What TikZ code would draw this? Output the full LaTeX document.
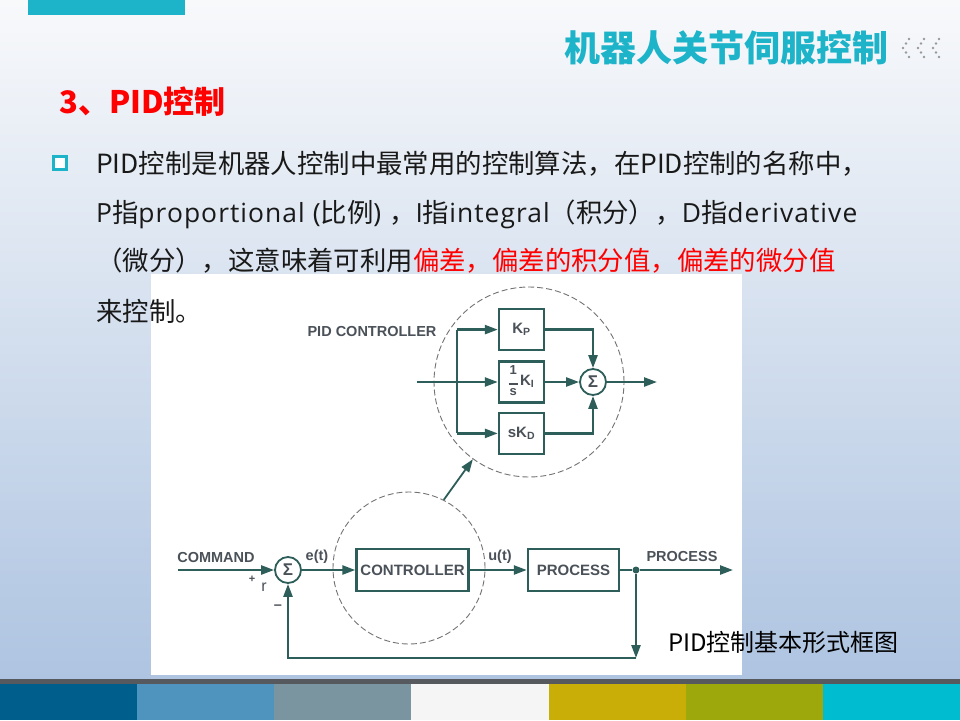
\documentclass[tikz,border=0pt]{standalone}
\usepackage{fontspec}
\setmainfont{Noto Sans CJK SC}
\newfontfamily\diafont{Liberation Sans}
\newfontfamily\latinfont[LetterSpace=4]{Open Sans}
\usetikzlibrary{arrows.meta,positioning}
\definecolor{brand}{HTML}{1DB3C9}
\definecolor{bgtop}{HTML}{F8F9FB}
\definecolor{bgbot}{HTML}{AEC4E1}
\definecolor{wire}{HTML}{2E5E5A}
\definecolor{labeltxt}{HTML}{4A5158}
\definecolor{rim}{HTML}{56595E}
\definecolor{sa}{HTML}{005E8C}
\definecolor{sb}{HTML}{4F93BF}
\definecolor{sc}{HTML}{7A959F}
\definecolor{sd}{HTML}{F5F5F5}
\definecolor{se}{HTML}{C9AE07}
\definecolor{sf}{HTML}{9CA80B}
\definecolor{sg}{HTML}{00BCD0}

\begin{document}
\begin{tikzpicture}[
  x=1pt,y=-1pt,
  body/.style={anchor=west,inner sep=0pt,font=\fontsize{26.4}{26.4}\selectfont,text=black!90},
  blk/.style={draw=wire,line width=2.4pt,fill=white,minimum width=45pt,minimum height=41pt,inner sep=0pt,
    font=\diafont\bfseries\fontsize{15}{15}\selectfont,text=labeltxt},
  sumc/.style={circle,draw=wire,line width=1.8pt,minimum size=26pt,inner sep=0pt,fill=white,
    text=labeltxt,font=\diafont\bfseries\fontsize{17}{17}\selectfont},
  zone/.style={circle,draw=black!55,dashed,dash pattern=on 6pt off 3pt,line width=0.9pt,inner sep=0pt},
  lbl/.style={font=\diafont\bfseries\fontsize{14.5}{14.5}\selectfont,text=labeltxt,inner sep=0pt},
  arr/.style={-{Triangle[length=13pt,width=9pt]},line width=2.4pt,draw=wire},
  wireline/.style={line width=2.4pt,draw=wire}
]
\useasboundingbox (0,0) rectangle (960,720);
% ---- slide background ----
\shade[top color=bgtop,bottom color=bgbot] (0,0) rectangle (960,680);
\fill[rim] (0,679) rectangle (960,684);
\foreach \c [count=\i from 0] in {sa,sb,sc,sd,se,sf,sg}
  \fill[\c] ({\i*960/7},684) rectangle ({(\i+1)*960/7},720);
\fill[brand] (28,0) rectangle (185,15);

% ---- headings ----
\node[anchor=east,inner sep=0pt,font=\bfseries\fontsize{36}{36}\selectfont,text=brand] (title) at (889,48) {机器人关节伺服控制};
\foreach \cx in {903,918,933}
  \foreach \dx/\dy in {6/-9,3/-4.5,0/0,3/4.5,6/9}
    \fill[black!40] (\cx+\dx,48+\dy) circle (1.3pt);
\node[anchor=west,inner sep=0pt,font=\bfseries\fontsize{31}{31}\selectfont,text=red] (sect) at (59,102) {3、PID控制};

% ---- figure panel ----
\fill[white] (151,274) rectangle (742,675);

% ---- bullet text ----
\draw[brand,line width=3pt,fill=white] (53.5,156.5) rectangle (66.5,169.5);
\node[body] (line1) at (96,164) {PID控制是机器人控制中最常用的控制算法，在PID控制的名称中，};
\node[body] (line2) at (96,214) {{\latinfont P}指{\latinfont proportional (}比例{\latinfont ) }，{\latinfont I}指{\latinfont integral}（积分），{\latinfont D}指{\latinfont derivative}};
\node[body] (line3) at (96,261) {（微分），这意味着可利用\textcolor{red}{偏差，偏差的积分值，偏差的微分值}};
\node[body] (line4) at (96,311) {来控制。};

% ---- PID controller (top) ----
\node[zone,minimum size=190pt] (pidzone) at (529,382) {};
\node[lbl] (pidlbl) at (372,332) {PID CONTROLLER};
\node[blk] (ki) at (521.5,382) {\begin{tabular}{@{}c@{}}\fontsize{13}{13}\selectfont 1\\[-5pt]\rule{9pt}{1.6pt}\\[-4pt]\fontsize{13}{13}\selectfont s\end{tabular}\,K\textsubscript{I}};
\node[blk,above=9pt of ki] (kp) {K\textsubscript{P}};
\node[blk,below=8pt of ki] (kd) {sK\textsubscript{D}};
\node[sumc] (sum2) at (593,382) {Σ};
\coordinate (pidin) at (417,382);
\coordinate (split) at (457,382);
\coordinate (pidout) at (657,382);
\draw[wireline] (split |- kp) -- (split |- kd);
\draw[arr] (pidin) -- (ki);
\draw[arr] (split |- kp) -- (kp);
\draw[arr] (split |- kd) -- (kd);
\draw[arr] (ki) -- (sum2);
\draw[arr] (kp) -| (sum2);
\draw[arr] (kd) -| (sum2);
\draw[arr] (sum2) -- (pidout);

% ---- servo loop (bottom) ----
\node[zone,minimum size=152pt] (ctrlzone) at (409,568) {};
\draw[arr,line width=1.8pt] (ctrlzone.63) -- (pidzone.234);
\coordinate (cmd) at (178,570);
\node[sumc] (sum1) at (288,570) {Σ};
\node[blk,minimum width=112pt,minimum height=42pt] (ctrl) at (412.5,570) {CONTROLLER};
\node[blk,minimum width=91pt,minimum height=42pt] (proc) at (573.5,570) {PROCESS};
\node[circle,fill=wire,inner sep=0pt,minimum size=7pt] (tap) at (636,570) {};
\coordinate (out) at (733,570);
\coordinate (fb) at (636,658);
\draw[arr] (cmd) -- (sum1);
\draw[arr] (sum1) -- (ctrl);
\draw[arr] (ctrl) -- (proc);
\draw[wireline] (proc) -- (tap);
\draw[arr] (tap) -- (out);
\draw[arr] (tap) -- (fb);
\draw[arr] (fb) -| (sum1);
\node[lbl] (cmdlbl) at (216,557) {COMMAND};
\node[lbl] (elbl) at (317,557) {e(t)};
\node[lbl] (ulbl) at (500,557) {u(t)};
\node[lbl] (outlbl) at (682,556) {PROCESS};
\node[lbl,font=\diafont\bfseries\fontsize{11}{11}\selectfont] (plus) at (252,579) {+};
\node[lbl,font=\diafont\fontsize{16}{16}\selectfont] (rlbl) at (264,587) {r};
\node[lbl] (minus) at (278,607) {\textendash};

% ---- caption ----
\node[anchor=west,inner sep=0pt,font=\fontsize{24}{24}\selectfont] (caption) at (668,642) {PID控制基本形式框图};
\end{tikzpicture}
\end{document}
